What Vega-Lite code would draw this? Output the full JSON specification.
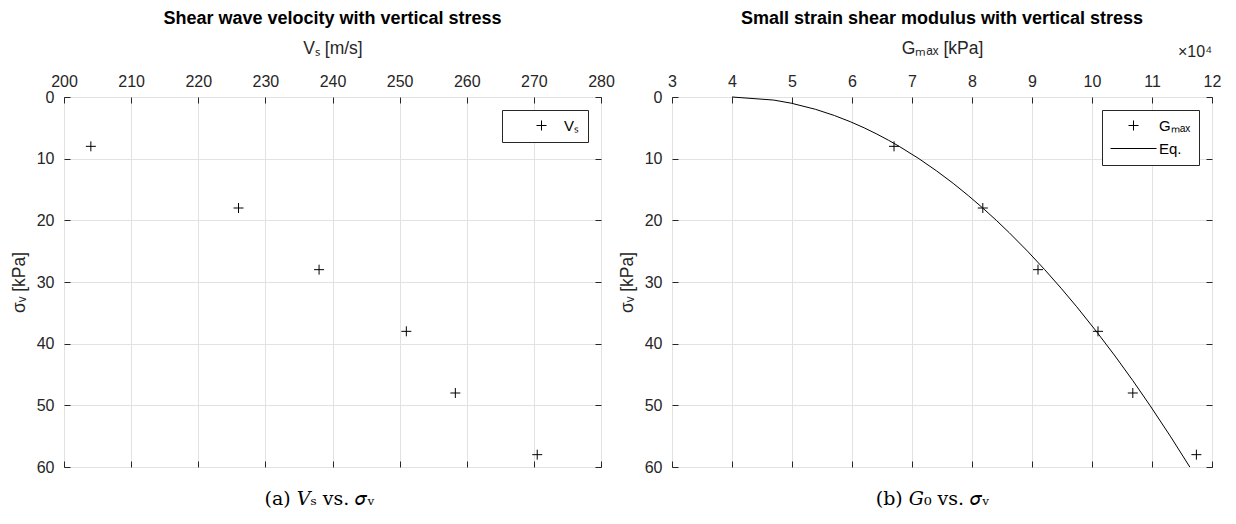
{
  "$schema": "https://vega.github.io/schema/vega-lite/v6.json",
  "background": "white",
  "padding": {"left": 9, "top": 9, "right": 5, "bottom": 0},
  "config": {
    "font": "Liberation Sans",
    "view": {"stroke": "#262626", "strokeWidth": 1},
    "axis": {
      "domain": false,
      "tickColor": "#262626",
      "tickWidth": 1,
      "labelColor": "#262626",
      "titleColor": "#262626",
      "labelFont": "Liberation Sans",
      "labelFontSize": 16,
      "titleFont": "Liberation Sans",
      "titleFontSize": 17.5,
      "titleFontWeight": "normal",
      "gridColor": "#e2e2e2",
      "gridWidth": 1,
      "labelFlush": false,
      "labelOverlap": false
    },
    "title": {"font": "Liberation Sans", "fontSize": 18, "fontWeight": "bold", "color": "#000000", "anchor": "middle", "offset": 11},
    "concat": {"spacing": 2}
  },
  "datasets": {
    "vs": [
      {"Vs": 204, "sigma": 8, "series": "Vₛ"},
      {"Vs": 226, "sigma": 18, "series": "Vₛ"},
      {"Vs": 238, "sigma": 28, "series": "Vₛ"},
      {"Vs": 251, "sigma": 38, "series": "Vₛ"},
      {"Vs": 258.3, "sigma": 48, "series": "Vₛ"},
      {"Vs": 270.5, "sigma": 58, "series": "Vₛ"}
    ],
    "gmax": [
      {"G": 67000, "sigma": 8, "series": "Gₘₐₓ"},
      {"G": 81800, "sigma": 18, "series": "Gₘₐₓ"},
      {"G": 91000, "sigma": 28, "series": "Gₘₐₓ"},
      {"G": 101000, "sigma": 38, "series": "Gₘₐₓ"},
      {"G": 106800, "sigma": 48, "series": "Gₘₐₓ"},
      {"G": 117400, "sigma": 58, "series": "Gₘₐₓ"}
    ],
    "eq": [
      {"G": 40000, "sigma": 0},
      {"G": 46970, "sigma": 0.5},
      {"G": 49850, "sigma": 1},
      {"G": 53930, "sigma": 2},
      {"G": 57060, "sigma": 3},
      {"G": 59700, "sigma": 4},
      {"G": 62030, "sigma": 5},
      {"G": 64130, "sigma": 6},
      {"G": 66060, "sigma": 7},
      {"G": 67860, "sigma": 8},
      {"G": 71150, "sigma": 10},
      {"G": 74120, "sigma": 12},
      {"G": 76860, "sigma": 14},
      {"G": 79400, "sigma": 16},
      {"G": 81790, "sigma": 18},
      {"G": 84050, "sigma": 20},
      {"G": 86200, "sigma": 22},
      {"G": 89250, "sigma": 25},
      {"G": 92120, "sigma": 28},
      {"G": 94840, "sigma": 31},
      {"G": 97440, "sigma": 34},
      {"G": 100720, "sigma": 38},
      {"G": 103840, "sigma": 42},
      {"G": 106810, "sigma": 46},
      {"G": 109650, "sigma": 50},
      {"G": 113050, "sigma": 55},
      {"G": 116300, "sigma": 60}
    ],
    "scaleNote": [
      {"note": "×10⁴"}
    ]
  },
  "resolve": {"scale": {"x": "independent", "y": "independent", "shape": "independent"}},
  "hconcat": [
    {
      "width": 537,
      "height": 370,
      "title": {"text": "Shear wave velocity with vertical stress"},
      "resolve": {"axis": {"x": "independent", "y": "independent"}},
      "layer": [
        {
          "data": {"name": "vs"},
          "mark": {"type": "point", "filled": false, "color": "black", "strokeWidth": 1, "opacity": 1},
          "encoding": {
            "x": {
              "field": "Vs", "type": "quantitative",
              "scale": {"domain": [200, 280], "nice": false, "zero": false},
              "axis": {"orient": "top", "title": "Vₛ [m/s]", "values": [200, 210, 220, 230, 240, 250, 260, 270, 280], "tickSize": -6, "labelPadding": 14, "titlePadding": 16, "grid": true}
            },
            "y": {
              "field": "sigma", "type": "quantitative",
              "scale": {"domain": [0, 60], "reverse": true, "nice": false},
              "axis": {"orient": "left", "title": "σᵥ [kPa]", "values": [0, 10, 20, 30, 40, 50, 60], "tickSize": -6, "labelPadding": 16, "titlePadding": 8, "grid": true}
            },
            "shape": {
              "field": "series", "type": "nominal",
              "scale": {"domain": ["Vₛ"], "range": ["M-1,0H1M0,-1V1"]},
              "legend": {
                "orient": "top-right", "offset": 13, "title": null, "padding": 8,
                "strokeColor": "#262626", "fillColor": "white",
                "symbolOffset": 24, "labelOffset": 15, "symbolSize": 100,
                "symbolStrokeColor": "black", "symbolStrokeWidth": 1, "symbolFillColor": "transparent",
                "labelFont": "Liberation Sans", "labelFontSize": 15, "labelColor": "black"
              }
            },
            "size": {"value": 100}
          }
        },
        {
          "data": {"name": "vs"},
          "mark": {"type": "point", "opacity": 0},
          "encoding": {
            "x": {
              "field": "Vs", "type": "quantitative",
              "axis": {"orient": "bottom", "labels": false, "values": [200, 210, 220, 230, 240, 250, 260, 270, 280], "tickSize": -6, "grid": false,
                "title": "(a) 𝑉ₛ vs. 𝜎ᵥ", "titleFont": "DejaVu Serif", "titleFontSize": 19, "titleColor": "black",
                "titleX": 255, "titleY": 22, "titleBaseline": "top", "titleAlign": "center"}
            },
            "y": {
              "field": "sigma", "type": "quantitative",
              "axis": {"orient": "right", "labels": false, "values": [0, 10, 20, 30, 40, 50, 60], "tickSize": -6, "grid": false, "title": null}
            }
          }
        }
      ]
    },
    {
      "width": 540,
      "height": 370,
      "title": {"text": "Small strain shear modulus with vertical stress"},
      "resolve": {"axis": {"x": "independent", "y": "independent"}},
      "layer": [
        {
          "data": {"name": "gmax"},
          "mark": {"type": "point", "filled": false, "color": "black", "strokeWidth": 1, "opacity": 1},
          "encoding": {
            "x": {
              "field": "G", "type": "quantitative",
              "scale": {"domain": [30000, 120000], "nice": false, "zero": false},
              "axis": {"orient": "top", "title": "Gₘₐₓ [kPa]", "values": [30000, 40000, 50000, 60000, 70000, 80000, 90000, 100000, 110000, 120000],
                "labelExpr": "datum.value / 10000", "tickSize": -6, "labelPadding": 14, "titlePadding": 16, "grid": true}
            },
            "y": {
              "field": "sigma", "type": "quantitative",
              "scale": {"domain": [0, 60], "reverse": true, "nice": false},
              "axis": {"orient": "left", "title": "σᵥ [kPa]", "values": [0, 10, 20, 30, 40, 50, 60], "tickSize": -6, "labelPadding": 16, "titlePadding": 8, "grid": true}
            },
            "shape": {
              "field": "series", "type": "nominal",
              "scale": {"domain": ["Gₘₐₓ", "Eq."], "range": ["M-1,0H1M0,-1V1", "M-4.6,0H4.6"]},
              "legend": {
                "orient": "top-right", "offset": 13, "title": null, "padding": 8, "rowPadding": 7,
                "strokeColor": "#262626", "fillColor": "white",
                "symbolOffset": 16, "labelOffset": 18, "symbolSize": 100,
                "symbolStrokeColor": "black", "symbolStrokeWidth": 1, "symbolFillColor": "transparent",
                "labelFont": "Liberation Sans", "labelFontSize": 15, "labelColor": "black"
              }
            },
            "size": {"value": 100}
          }
        },
        {
          "data": {"name": "eq"},
          "mark": {"type": "line", "color": "black", "strokeWidth": 1},
          "encoding": {
            "x": {
              "field": "G", "type": "quantitative",
              "axis": {"orient": "bottom", "labels": false, "values": [30000, 40000, 50000, 60000, 70000, 80000, 90000, 100000, 110000, 120000], "tickSize": -6, "grid": false,
                "title": "(b) 𝐺₀ vs. 𝜎ᵥ", "titleFont": "DejaVu Serif", "titleFontSize": 19, "titleColor": "black",
                "titleX": 260, "titleY": 22, "titleBaseline": "top", "titleAlign": "center"}
            },
            "y": {
              "field": "sigma", "type": "quantitative",
              "axis": {"orient": "right", "labels": false, "values": [0, 10, 20, 30, 40, 50, 60], "tickSize": -6, "grid": false, "title": null}
            },
            "order": {"field": "sigma", "type": "quantitative"}
          }
        },
        {
          "data": {"name": "scaleNote"},
          "mark": {"type": "text", "align": "right", "baseline": "alphabetic", "fontSize": 16, "color": "#262626", "clip": false},
          "encoding": {
            "text": {"field": "note", "type": "nominal"},
            "x": {"datum": 120000, "type": "quantitative", "axis": null},
            "y": {"datum": -6.5, "type": "quantitative", "axis": null}
          }
        }
      ]
    }
  ]
}
